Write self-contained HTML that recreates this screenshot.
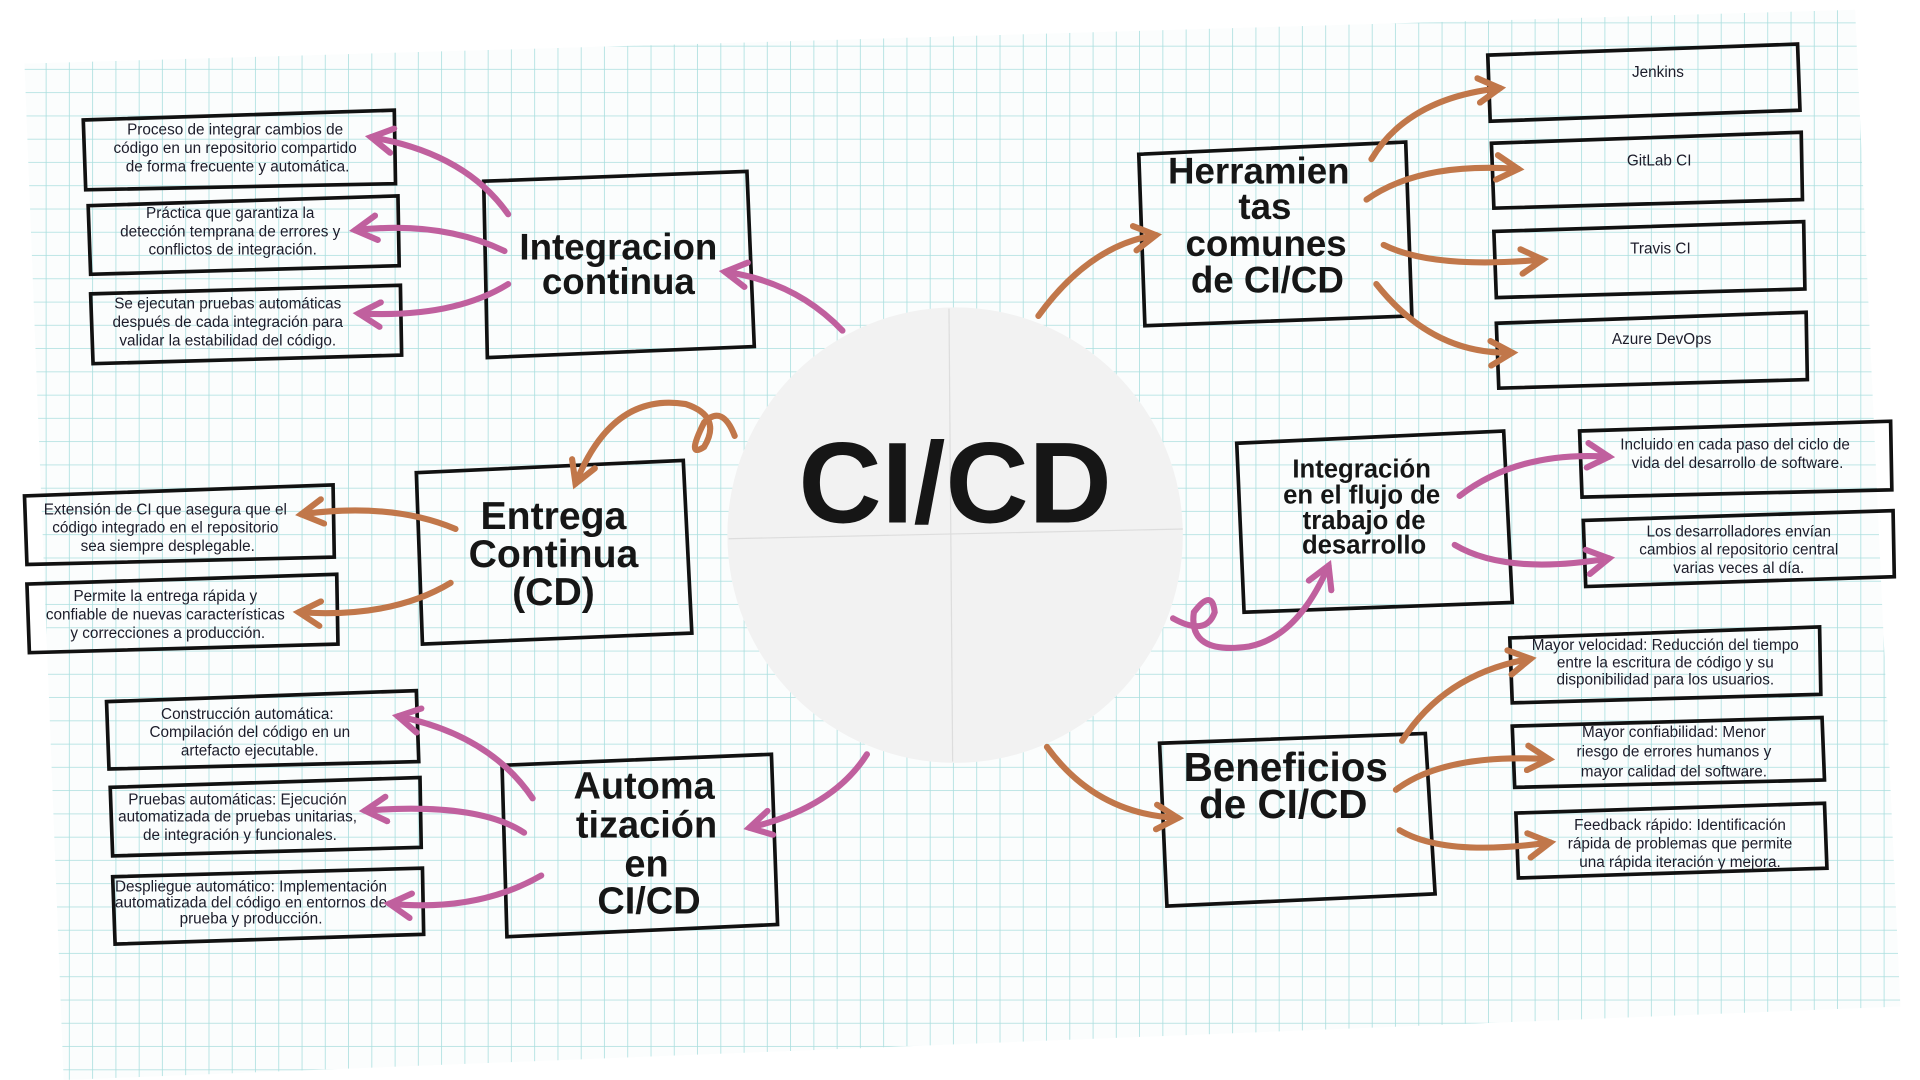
<!DOCTYPE html>
<html><head><meta charset="utf-8"><style>
html,body{margin:0;padding:0;background:#fff;width:1920px;height:1080px;overflow:hidden}
svg{display:block}
.s{font-family:"Liberation Sans",sans-serif;font-size:12.5px;fill:#1c1c2a;text-anchor:middle}
.h{font-family:"Liberation Sans",sans-serif;font-weight:bold;fill:#161616;text-anchor:middle}
.b{fill:none;stroke:#111;stroke-width:3}
.p{fill:none;stroke:#c0609e;stroke-width:5;stroke-linecap:round}
.o{fill:none;stroke:#c1774a;stroke-width:5;stroke-linecap:round}
</style></head><body>
<svg width="1920" height="1080" viewBox="0 0 1568 882" xmlns="http://www.w3.org/2000/svg">
<defs>
<pattern id="g" width="19" height="19" patternUnits="userSpaceOnUse">
<path d="M19 0V19M0 19H19" stroke="#a9dede" stroke-width="1.3" fill="none"/>
</pattern>
<marker id="ap" viewBox="0 0 10 10" refX="8" refY="5" markerWidth="5" markerHeight="5" orient="auto"><path d="M1 1L8 5L1 9" fill="none" stroke="#c0609e" stroke-width="2" stroke-linecap="round"/></marker>
<marker id="ao" viewBox="0 0 10 10" refX="8" refY="5" markerWidth="5" markerHeight="5" orient="auto"><path d="M1 1L8 5L1 9" fill="none" stroke="#c1774a" stroke-width="2" stroke-linecap="round"/></marker>
</defs>
<polygon points="20,52 1515,8 1552,822 52,882" fill="#fbfdfd"/>
<polygon points="20,52 1515,8 1552,822 52,882" fill="url(#g)"/>
<circle cx="780" cy="437" r="186" fill="#f2f2f2"/>
<line x1="775" y1="252" x2="778" y2="622" stroke="#ddd" stroke-width="1"/>
<line x1="595" y1="440" x2="966" y2="432" stroke="#ddd" stroke-width="1"/>
<text x="780" y="402" class="h" font-size="94" dominant-baseline="middle" fill="#333">CI/CD</text>

<g class="b">
<polygon points="68,98 322,90 323,150 70,155"/>
<polygon points="72,168 325,160 326,217 74,224"/>
<polygon points="74,240 327,233 328,290 76,297"/>
<polygon points="395,148 610,140 616,283 398,292"/>
<polygon points="340,386 558,376 565,517 345,526"/>
<polygon points="20,405 272,396 273,455 22,461"/>
<polygon points="22,477 275,469 276,526 24,533"/>
<polygon points="410,625 630,616 635,755 414,765"/>
<polygon points="87,573 340,564 342,622 89,628"/>
<polygon points="90,643 343,635 344,692 92,699"/>
<polygon points="92,716 345,709 346,763 94,771"/>
<polygon points="930,126 1148,116 1153,258 935,266"/>
<polygon points="1215,45 1468,36 1470,90 1217,99"/>
<polygon points="1218,117 1471,108 1472,163 1220,170"/>
<polygon points="1220,189 1473,181 1474,236 1222,243"/>
<polygon points="1222,264 1475,255 1476,310 1224,317"/>
<polygon points="1010,362 1228,352 1235,492 1016,500"/>
<polygon points="1290,352 1544,344 1545,400 1292,406"/>
<polygon points="1293,425 1546,417 1547,471 1295,479"/>
<polygon points="947,607 1164,599 1172,730 953,740"/>
<polygon points="1233,521 1486,512 1487,567 1235,574"/>
<polygon points="1235,593 1488,586 1490,637 1237,643"/>
<polygon points="1238,664 1490,656 1492,709 1240,717"/>
</g>

<text class="s"><tspan x="192" y="110">Proceso de integrar cambios de</tspan><tspan x="192" y="125">código en un repositorio compartido</tspan><tspan x="194" y="140">de forma frecuente y automática.</tspan></text>
<text class="s"><tspan x="188" y="178">Práctica que garantiza la</tspan><tspan x="188" y="193">detección temprana de errores y</tspan><tspan x="190" y="208">conflictos de integración.</tspan></text>
<text class="s"><tspan x="186" y="252">Se ejecutan pruebas automáticas</tspan><tspan x="186" y="267">después de cada integración para</tspan><tspan x="186" y="282">validar la estabilidad del código.</tspan></text>
<text class="s"><tspan x="135" y="420">Extensión de CI que asegura que el</tspan><tspan x="135" y="435">código integrado en el repositorio</tspan><tspan x="137" y="450">sea siempre desplegable.</tspan></text>
<text class="s"><tspan x="135" y="491">Permite la entrega rápida y</tspan><tspan x="135" y="506">confiable de nuevas características</tspan><tspan x="137" y="521">y correcciones a producción.</tspan></text>
<text class="s"><tspan x="202" y="587">Construcción automática:</tspan><tspan x="204" y="602">Compilación del código en un</tspan><tspan x="204" y="617">artefacto ejecutable.</tspan></text>
<text class="s" font-size="12"><tspan x="194" y="657">Pruebas automáticas: Ejecución</tspan><tspan x="194" y="671">automatizada de pruebas unitarias,</tspan><tspan x="196" y="686">de integración y funcionales.</tspan></text>
<text class="s" font-size="10"><tspan x="205" y="728">Despliegue automático: Implementación</tspan><tspan x="205" y="741">automatizada del código en entornos de</tspan><tspan x="205" y="754">prueba y producción.</tspan></text>
<text class="s" font-size="16"><tspan x="1354" y="63">Jenkins</tspan></text>
<text class="s" font-size="16"><tspan x="1355" y="135">GitLab CI</tspan></text>
<text class="s" font-size="16"><tspan x="1356" y="207">Travis CI</tspan></text>
<text class="s" font-size="16"><tspan x="1357" y="281">Azure DevOps</tspan></text>
<text class="s"><tspan x="1417" y="367">Incluido en cada paso del ciclo de</tspan><tspan x="1419" y="382">vida del desarrollo de software.</tspan></text>
<text class="s"><tspan x="1420" y="438">Los desarrolladores envían</tspan><tspan x="1420" y="453">cambios al repositorio central</tspan><tspan x="1420" y="468">varias veces al día.</tspan></text>
<text class="s" font-size="11.5"><tspan x="1360" y="531">Mayor velocidad: Reducción del tiempo</tspan><tspan x="1360" y="545">entre la escritura de código y su</tspan><tspan x="1360" y="559">disponibilidad para los usuarios.</tspan></text>
<text class="s"><tspan x="1367" y="602">Mayor confiabilidad: Menor</tspan><tspan x="1367" y="618">riesgo de errores humanos y</tspan><tspan x="1367" y="634">mayor calidad del software.</tspan></text>
<text class="s"><tspan x="1372" y="678">Feedback rápido: Identificación</tspan><tspan x="1372" y="693">rápida de problemas que permite</tspan><tspan x="1372" y="708">una rápida iteración y mejora.</tspan></text>

<text class="h" font-size="30"><tspan x="505" y="212">Integracion</tspan><tspan x="505" y="240">continua</tspan></text>
<text class="h" font-size="32"><tspan x="452" y="432">Entrega</tspan><tspan x="452" y="463">Continua</tspan><tspan x="452" y="494">(CD)</tspan></text>
<text class="h" font-size="31"><tspan x="526" y="652">Automa</tspan><tspan x="528" y="684">tización</tspan><tspan x="528" y="716">en</tspan><tspan x="530" y="746">CI/CD</tspan></text>
<text class="h" font-size="30"><tspan x="1028" y="150">Herramien</tspan><tspan x="1033" y="179">tas</tspan><tspan x="1034" y="209">comunes</tspan><tspan x="1035" y="239">de CI/CD</tspan></text>
<text class="h" font-size="21"><tspan x="1112" y="390">Integración</tspan><tspan x="1112" y="411">en el flujo de</tspan><tspan x="1114" y="432">trabajo de</tspan><tspan x="1114" y="452">desarrollo</tspan></text>
<text class="h" font-size="33"><tspan x="1050" y="638">Beneficios</tspan><tspan x="1048" y="668">de CI/CD</tspan></text>

<path class="p" marker-end="url(#ap)" d="M688 270 Q650 230 592 222"/>
<path class="p" marker-end="url(#ap)" d="M415 175 Q380 125 303 112"/>
<path class="p" marker-end="url(#ap)" d="M412 205 Q360 180 290 188"/>
<path class="p" marker-end="url(#ap)" d="M415 232 Q370 260 293 256"/>
<path class="o" marker-end="url(#ao)" d="M600 356 Q590 330 575 345 Q560 375 575 365 Q590 340 560 330 Q500 320 470 395"/>
<path class="o" marker-end="url(#ao)" d="M372 432 Q320 410 246 420"/>
<path class="o" marker-end="url(#ao)" d="M368 476 Q320 505 244 500"/>
<path class="p" marker-end="url(#ap)" d="M708 616 Q680 660 612 676"/>
<path class="p" marker-end="url(#ap)" d="M435 652 Q400 600 325 585"/>
<path class="p" marker-end="url(#ap)" d="M428 680 Q390 655 298 662"/>
<path class="p" marker-end="url(#ap)" d="M442 715 Q390 745 318 738"/>
<path class="o" marker-end="url(#ao)" d="M848 258 Q890 200 944 192"/>
<path class="o" marker-end="url(#ao)" d="M1120 130 Q1150 80 1225 72"/>
<path class="o" marker-end="url(#ao)" d="M1116 163 Q1160 132 1240 138"/>
<path class="o" marker-end="url(#ao)" d="M1130 200 Q1170 220 1260 212"/>
<path class="o" marker-end="url(#ao)" d="M1124 232 Q1170 290 1235 288"/>
<path class="p" marker-end="url(#ap)" d="M958 505 Q985 520 992 500 Q990 480 975 500 Q970 535 1020 528 Q1060 520 1085 462"/>
<path class="p" marker-end="url(#ap)" d="M1192 405 Q1240 368 1314 373"/>
<path class="p" marker-end="url(#ap)" d="M1188 445 Q1230 470 1314 456"/>
<path class="o" marker-end="url(#ao)" d="M855 610 Q895 665 962 668"/>
<path class="o" marker-end="url(#ao)" d="M1145 605 Q1180 550 1250 538"/>
<path class="o" marker-end="url(#ao)" d="M1140 645 Q1180 615 1265 620"/>
<path class="o" marker-end="url(#ao)" d="M1143 678 Q1180 700 1266 688"/>
</svg>
</body></html>
